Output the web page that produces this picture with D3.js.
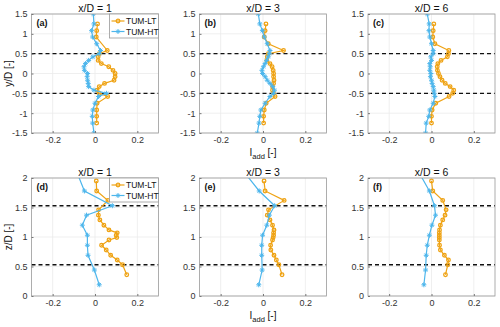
<!DOCTYPE html>
<html>
<head>
<meta charset="utf-8">
<script src="https://cdn.jsdelivr.net/npm/d3@7"></script>
<style>
body { margin: 0; background: #fff; }
</style>
</head>
<body>
<script>
// heights (y/D or z/D) where the profiles were sampled
var topLevels = [1.5, 1.25, 1.08, 0.92, 0.75, 0.58, 0.5, 0.42, 0.33, 0.25, 0.17, 0.08, 0,
    -0.08, -0.17, -0.25, -0.33, -0.42, -0.5, -0.58, -0.75, -0.92, -1.08, -1.25, -1.5];
var botLevelsLT = [1.95, 1.78, 1.62, 1.46, 1.37, 1.29, 1.2, 1.12, 1.07, 1.03, 0.99, 0.95,
    0.86, 0.78, 0.69, 0.61, 0.53, 0.36];
var botLevelsHT = [2.1, 1.78, 1.53, 1.37, 1.2, 1.03, 0.86, 0.69, 0.44, 0.19];

// I_add values (null = no sample at that height)
var aLT = [null, 0.012, 0.008, 0.006, null, 0.058, 0.02, 0.015, 0.015, 0.03, 0.065, 0.085, 0.095,
    0.095, 0.09, 0.045, 0.02, 0.01, 0.02, 0.06, 0.01, 0.008, 0.008, 0.008, null];
var aHT = [-0.008, -0.005, -0.016, -0.011, 0.008, 0.026, 0.02, -0.01, -0.03, -0.045, -0.052, -0.05, -0.035,
    -0.037, -0.035, -0.032, -0.03, -0.005, 0.054, 0.017, 0, -0.01, -0.013, -0.011, -0.005];
var bLT = [null, 0.014, 0.01, 0.006, 0.025, 0.097, 0.025, 0.02, 0.018, 0.033, 0.043, 0.048, 0.05,
    0.05, 0.052, 0.05, 0.045, 0.045, 0.05, 0.057, 0.015, 0.006, 0.003, 0.003, null];
var bHT = [-0.022, -0.015, -0.003, 0.006, 0.02, 0.033, 0.03, 0.025, 0.017, 0.01, 0.002, -0.005, -0.002,
    0.01, 0.02, 0.033, 0.046, 0.054, 0.05, 0.033, 0.01, -0.01, -0.015, -0.019, -0.027];
var cLT = [null, 0.011, 0.008, 0.006, 0.016, 0.082, 0.08, 0.075, 0.045, 0.03, 0.027, 0.028, 0.033,
    0.04, 0.05, 0.065, 0.088, 0.105, 0.1, 0.083, 0.02, 0.003, 0, 0, null];
var cHT = [-0.02, -0.011, -0.012, -0.008, 0, 0.008, 0.008, -0.003, 0, -0.008, -0.006, -0.008, -0.003,
    -0.005, 0, 0.003, 0.008, 0.011, 0.013, 0.016, 0.008, -0.008, -0.013, -0.025, -0.028];
var dLT = [0.006, 0.008, 0.061, 0.017, 0.016, 0.023, 0.042, 0.066, 0.105, 0.1, 0.103, 0.066,
    0.031, 0.053, 0.074, 0.105, 0.13, 0.15];
var dHT = [-0.086, -0.05, 0.082, -0.04, -0.06, -0.036, -0.036, -0.033, -0.003, 0.02];
var eLT = [0.005, 0.01, 0.1, 0.026, 0.02, 0.033, 0.045, 0.052, 0.05, 0.05, 0.048, 0.045,
    0.036, 0.037, 0.052, 0.063, 0.075, 0.09];
var eHT = [-0.089, -0.018, 0.055, 0.03, 0.018, -0.002, -0.006, -0.006, -0.004, -0.02];
var fLT = [0, 0.006, 0.053, 0.069, 0.064, 0.053, 0.042, 0.038, 0.037, 0.037, 0.037, 0.037,
    0.038, 0.042, 0.061, 0.08, 0.077, 0.066];
var fHT = [-0.06, -0.01, 0.014, 0.019, 0.002, -0.01, -0.02, -0.025, -0.028, -0.036];

var xTicks = [-0.2, 0, 0.2];
var yTicksTop = [-1.5, -1, -0.5, 0, 0.5, 1, 1.5];
var yTicksBot = [0, 0.5, 1, 1.5, 2];
var dashTop = [-0.5, 0.5];
var dashBot = [0.53, 1.53];
var titles = ["x/D = 1", "x/D = 3", "x/D = 6"];
var tags = ["(a)", "(b)", "(c)", "(d)", "(e)", "(f)"];
var seriesNames = ["TUM-LT", "TUM-HT"];

var colLT = "#EFA314";
var colHT = "#4DB6EC";
var font = '"Liberation Sans", Arial, sans-serif';

var colLeft = [31.5, 199.5, 368];
var panelW = 127;
var rowTop = [14, 178];
var rowBot = [133, 296];

var starPath = "M-2.5,0H2.5M0,-2.5V2.5M-1.7,-1.7L1.7,1.7M-1.7,1.7L1.7,-1.7";

var svg = d3.select("body")
    .append("svg")
    .attr("width", 500)
    .attr("height", 327)
    .style("font-family", font);

var panels = [
    {lt: aLT, ht: aHT, ltLv: topLevels, htLv: topLevels},
    {lt: bLT, ht: bHT, ltLv: topLevels, htLv: topLevels},
    {lt: cLT, ht: cHT, ltLv: topLevels, htLv: topLevels},
    {lt: dLT, ht: dHT, ltLv: botLevelsLT, htLv: botLevelsHT},
    {lt: eLT, ht: eHT, ltLv: botLevelsLT, htLv: botLevelsHT},
    {lt: fLT, ht: fHT, ltLv: botLevelsLT, htLv: botLevelsHT}
];

function pairs(xs, lv) {
    return xs.map(function(v, i) { return {v: v, h: lv[i]}; })
        .filter(function(d) { return d.v !== null; });
}

panels.forEach(function(p, i) {
    var row = Math.floor(i / 3), col = i % 3;
    var left = colLeft[col], right = left + panelW;
    var top = rowTop[row], bot = rowBot[row];

    var x = d3.scaleLinear().domain([-0.3, 0.3]).range([left, right]);
    var y = d3.scaleLinear().domain(row == 0 ? [-1.5, 1.5] : [0, 2]).range([bot, top]);
    var yTicks = row == 0 ? yTicksTop : yTicksBot;

    var g = svg.append('g');

    g.append('rect')
        .attr('x', left).attr('y', top)
        .attr('width', panelW).attr('height', bot - top)
        .attr('fill', '#fff');

    // grid
    g.selectAll('.gx').data(xTicks).enter().append('line')
        .attr('x1', d => x(d)).attr('x2', d => x(d))
        .attr('y1', top).attr('y2', bot)
        .attr('stroke', '#ebebeb').attr('stroke-width', 0.8);
    g.selectAll('.gy').data(yTicks).enter().append('line')
        .attr('x1', left).attr('x2', right)
        .attr('y1', d => y(d)).attr('y2', d => y(d))
        .attr('stroke', '#ebebeb').attr('stroke-width', 0.8);

    // dashed reference lines
    g.selectAll('.dash').data(row == 0 ? dashTop : dashBot).enter().append('line')
        .attr('x1', left).attr('x2', right)
        .attr('y1', d => y(d)).attr('y2', d => y(d))
        .attr('stroke', '#111').attr('stroke-width', 1.4)
        .attr('stroke-dasharray', '4,3');

    var clipId = 'clip' + i;
    svg.append('clipPath').attr('id', clipId)
        .append('rect')
        .attr('x', left).attr('y', top)
        .attr('width', panelW).attr('height', bot - top);

    var plot = g.append('g').attr('clip-path', 'url(#' + clipId + ')');
    var line = d3.line().x(d => x(d.v)).y(d => y(d.h));

    var lt = pairs(p.lt, p.ltLv);
    var ht = pairs(p.ht, p.htLv);

    plot.append('path').datum(lt)
        .attr('d', line).attr('fill', 'none')
        .attr('stroke', colLT).attr('stroke-width', 1.2);
    plot.selectAll('.mlt').data(lt).enter().append('circle')
        .attr('cx', d => x(d.v)).attr('cy', d => y(d.h))
        .attr('r', 1.8).attr('fill', 'none')
        .attr('stroke', colLT).attr('stroke-width', 1.3);

    plot.append('path').datum(ht)
        .attr('d', line).attr('fill', 'none')
        .attr('stroke', colHT).attr('stroke-width', 1.2);
    plot.selectAll('.mht').data(ht).enter().append('path')
        .attr('d', starPath)
        .attr('transform', d => `translate(${x(d.v)},${y(d.h)})`)
        .attr('fill', 'none')
        .attr('stroke', colHT).attr('stroke-width', 1);

    // box
    g.append('rect')
        .attr('x', left).attr('y', top)
        .attr('width', panelW).attr('height', bot - top)
        .attr('fill', 'none').attr('stroke', '#9a9a9a').attr('stroke-width', 0.8);

    // axes
    var ax = g.append('g').attr('transform', `translate(0,${bot})`)
        .call(d3.axisBottom(x).tickValues(xTicks).tickFormat(d => String(d))
            .tickSizeInner(-2).tickSizeOuter(0).tickPadding(4));
    var ay = g.append('g').attr('transform', `translate(${left},0)`)
        .call(d3.axisLeft(y).tickValues(yTicks).tickFormat(d => String(d))
            .tickSizeInner(-2).tickSizeOuter(0).tickPadding(4));
    [ax, ay].forEach(function(a) {
        a.attr('font-family', font).attr('font-size', 9);
        a.select('.domain').remove();
        a.selectAll('.tick line').attr('stroke', '#777');
        a.selectAll('.tick text').attr('fill', '#333');
    });

    // title and tag
    g.append('text')
        .attr('x', (left + right) / 2).attr('y', top - 2.5)
        .attr('text-anchor', 'middle').attr('font-size', 10.5).attr('fill', '#111')
        .text(titles[col]);
    g.append('text')
        .attr('x', left + 5).attr('y', top + 12)
        .attr('font-size', 9).attr('font-weight', 'bold').attr('fill', '#111')
        .text(tags[i]);

    if (col == 1) {
        var lab = g.append('text')
            .attr('x', (left + right) / 2).attr('y', bot + 23)
            .attr('text-anchor', 'middle').attr('font-size', 10).attr('fill', '#111');
        lab.append('tspan').text('I');
        lab.append('tspan').attr('font-size', 7.5).attr('dy', 3).text('add');
        lab.append('tspan').attr('dy', -3).text(' [-]');
    }

    if (col == 0) {
        g.append('text')
            .attr('transform', `translate(12,${(top + bot) / 2}) rotate(-90)`)
            .attr('text-anchor', 'middle').attr('font-size', 10).attr('fill', '#111')
            .text(row == 0 ? 'y/D [-]' : 'z/D [-]');

        // legend
        var lg = g.append('g').attr('transform', `translate(${right - 49},${top})`);
        lg.append('rect')
            .attr('width', 49).attr('height', 24)
            .attr('fill', '#fff').attr('stroke', '#9a9a9a').attr('stroke-width', 0.8);
        seriesNames.forEach(function(name, k) {
            var ly = 7 + k * 10.5;
            var c = k == 0 ? colLT : colHT;
            lg.append('line')
                .attr('x1', 2).attr('x2', 15).attr('y1', ly).attr('y2', ly)
                .attr('stroke', c).attr('stroke-width', 1.2);
            if (k == 0) {
                lg.append('circle').attr('cx', 8.5).attr('cy', ly).attr('r', 1.8)
                    .attr('fill', 'none').attr('stroke', c).attr('stroke-width', 1.3);
            } else {
                lg.append('path').attr('d', starPath)
                    .attr('transform', `translate(8.5,${ly})`)
                    .attr('fill', 'none').attr('stroke', c).attr('stroke-width', 1);
            }
            lg.append('text')
                .attr('x', 16.5).attr('y', ly + 3)
                .attr('font-size', 8.5).attr('fill', '#111')
                .text(name);
        });
    }
});
</script>
</body>
</html>
